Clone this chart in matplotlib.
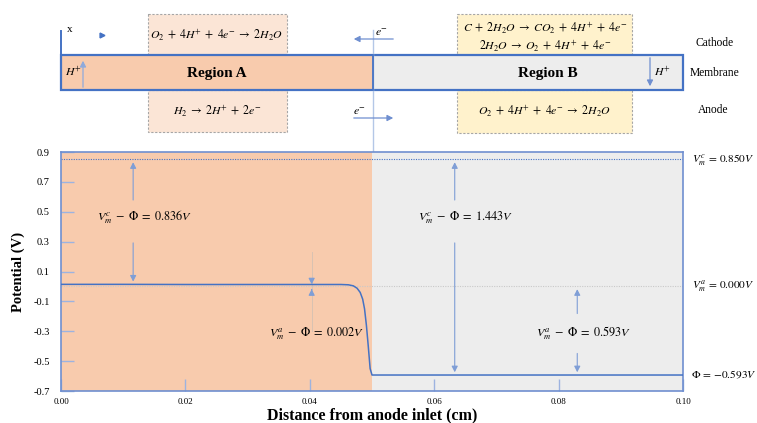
import matplotlib
matplotlib.use("Agg")
import matplotlib.pyplot as plt
from matplotlib.patches import Rectangle

plt.rcParams['font.family'] = ['Liberation Serif', 'DejaVu Serif']
plt.rcParams['mathtext.fontset'] = 'stix'

# ---------------- data ----------------
x_cm = [0.0, 0.01, 0.02, 0.03, 0.04, 0.045, 0.0462, 0.0470, 0.0476, 0.0481, 0.0485,
        0.0488, 0.0491, 0.0494, 0.0497, 0.0500, 0.06, 0.07, 0.08, 0.09, 0.10]
potential = [0.014, 0.014, 0.013, 0.013, 0.013, 0.013, 0.011, 0.004, -0.012, -0.040, -0.085,
             -0.15, -0.26, -0.40, -0.55, -0.593, -0.593, -0.593, -0.593, -0.593, -0.593]
V_c = 0.850
V_a = 0.000
phi_A = 0.014
phi_B = -0.593
region_split = 0.05
x_ticks = [0.00, 0.02, 0.04, 0.06, 0.08, 0.10]
x_ticklabels = ['0.00', '0.02', '0.04', '0.06', '0.08', '0.10']
y_ticks = [0.9, 0.7, 0.5, 0.3, 0.1, -0.1, -0.3, -0.5, -0.7]
y_ticklabels = ['0.9', '0.7', '0.5', '0.3', '0.1', '-0.1', '-0.3', '-0.5', '-0.7']

SALMON = '#F8CBAD'
PEACH = '#FBE5D6'
GRAYF = '#EDEDED'
YELLOW = '#FFF2CC'
BLUE = '#4472C4'
LBLUE = '#B4C7E7'

W, H = 757, 423
fig = plt.figure(figsize=(W / 100, H / 100), dpi=100)

# ---------------- top schematic (pixel coordinates) ----------------
ov = fig.add_axes([0, 0, 1, 1], zorder=0)
ov.set_xlim(0, W)
ov.set_ylim(H, 0)
ov.axis('off')

for (x0, x1, y0, y1, fc) in [(148, 287, 14, 55, PEACH), (148, 287, 90, 132, PEACH),
                              (457, 632, 14, 55, YELLOW), (457, 632, 90, 133, YELLOW)]:
    ov.add_patch(Rectangle((x0, y0), x1 - x0, y1 - y0, facecolor=fc, edgecolor='#A6A6A6',
                           lw=0.8, ls=(0, (2, 1.5))))
ov.add_patch(Rectangle((61, 55), 312, 35, facecolor=SALMON, edgecolor='none'))
ov.add_patch(Rectangle((373, 55), 310, 35, facecolor=GRAYF, edgecolor='none'))
ov.add_patch(Rectangle((61, 55), 622, 35, facecolor='none', edgecolor=BLUE, lw=1.6))
ov.plot([373, 373], [55, 90], color=BLUE, lw=1.3)
ov.plot([61, 61], [31, 90], color=BLUE, lw=1.4)
ov.text(70, 30, 'x', fontsize=8, ha='center', va='center')
ov.plot([102], [35], marker='>', ms=3.5, color=BLUE, lw=0)
ov.plot([373, 373], [30, 152], color=LBLUE, lw=1.0, zorder=1)

hk = dict(arrowstyle='-|>,head_length=0.35,head_width=0.18', color='#6F8FD0', lw=0.9)
ov.annotate('', xy=(83, 58), xytext=(83, 90), arrowprops=dict(hk, color='#8FAADC'))
ov.text(73, 72, r'$H^{+}$', fontsize=8.5, ha='center', va='center')
ov.annotate('', xy=(650, 89), xytext=(650, 55), arrowprops=hk)
ov.text(662, 72, r'$H^{+}$', fontsize=8.5, ha='center', va='center')
ov.annotate('', xy=(351, 39), xytext=(396, 39), arrowprops=hk)
ov.text(382, 33, r'$e^{-}$', fontsize=8.5, ha='center', va='center')
ov.annotate('', xy=(396, 118), xytext=(351, 118), arrowprops=hk)
ov.text(360, 112, r'$e^{-}$', fontsize=8.5, ha='center', va='center')

ov.text(217, 73, 'Region A', fontsize=11, fontweight='bold', ha='center', va='center')
ov.text(548, 73, 'Region B', fontsize=11, fontweight='bold', ha='center', va='center')

eq = 8.5
ov.text(217, 35, r'$O_2\;+\;4H^{+}\;+\;4e^{-}\;\rightarrow\;2H_2O$', fontsize=eq, ha='center', va='center')
ov.text(217, 111, r'$H_2\;\rightarrow\;2H^{+}\;+\;2e^{-}$', fontsize=eq, ha='center', va='center')
ov.text(545, 28, r'$C\;+\;2H_2O\;\rightarrow\;CO_2\;+\;4H^{+}\;+\;4e^{-}$', fontsize=eq, ha='center', va='center')
ov.text(545, 46, r'$2H_2O\;\rightarrow\;O_2\;+\;4H^{+}\;+\;4e^{-}$', fontsize=eq, ha='center', va='center')
ov.text(545, 111, r'$O_2\;+\;4H^{+}\;+\;4e^{-}\;\rightarrow\;2H_2O$', fontsize=eq, ha='center', va='center')

ov.text(715, 43, 'Cathode', fontsize=8.3, ha='center', va='center')
ov.text(715, 73, 'Membrane', fontsize=8.3, ha='center', va='center')
ov.text(713, 110, 'Anode', fontsize=8.3, ha='center', va='center')

# ---------------- potential plot ----------------
ax = fig.add_axes([61 / W, 1 - 391 / H, (683 - 61) / W, (391 - 152) / H], zorder=1)
ax.patch.set_alpha(0)
ax.set_xlim(0, 0.10)
ax.set_ylim(-0.7, 0.9)
ax.axvspan(0, region_split, color=SALMON, lw=0, zorder=0)
ax.axvspan(region_split, 0.10, color=GRAYF, lw=0, zorder=0)

ax.axhline(V_c, color=BLUE, lw=0.8, ls=(0, (1, 1.2)), zorder=2)
ax.axhline(V_a, color='#C9C9C9', lw=0.8, ls=(0, (1, 1.2)), zorder=2)
ax.plot(x_cm, potential, color=BLUE, lw=1.1, zorder=3)

arrow_kw = dict(arrowstyle='-|>,head_length=0.35,head_width=0.18', color='#7F9ED6', lw=0.8)

def dbl_arrow(x, top, bottom, gap_top, gap_bottom):
    ax.annotate('', xy=(x, top), xytext=(x, gap_top), arrowprops=arrow_kw, zorder=4)
    ax.annotate('', xy=(x, bottom), xytext=(x, gap_bottom), arrowprops=arrow_kw, zorder=4)

tf = 8.8
dbl_arrow(0.0116, V_c, phi_A, 0.56, 0.31)
ax.text(0.0135, 0.465, r'$V_m^c\;-\;\Phi\;=\;0.836V$', fontsize=tf, ha='center', va='center')

ax.plot([0.0403, 0.0403], [0.23, -0.30], color='#D9C2B2', lw=0.7, zorder=2)
ax.annotate('', xy=(0.0403, phi_A), xytext=(0.0403, 0.05), arrowprops=arrow_kw, zorder=4)
ax.annotate('', xy=(0.0403, V_a), xytext=(0.0403, -0.04), arrowprops=arrow_kw, zorder=4)
ax.text(0.0411, -0.31, r'$V_m^a\;-\;\Phi\;=\;0.002V$', fontsize=tf, ha='center', va='center')

dbl_arrow(0.0633, V_c, phi_B, 0.56, 0.31)
ax.text(0.0650, 0.465, r'$V_m^c\;-\;\Phi\;=\;1.443V$', fontsize=tf, ha='center', va='center')

dbl_arrow(0.0830, V_a, phi_B, -0.20, -0.43)
ax.text(0.0840, -0.31, r'$V_m^a\;-\;\Phi\;=\;0.593V$', fontsize=tf, ha='center', va='center')

rf = 8.2
ax.text(0.1015, V_c, r'$V_m^c\,=\,0.850V$', fontsize=rf, ha='left', va='center', clip_on=False)
ax.text(0.1015, V_a, r'$V_m^a\,=\,0.000V$', fontsize=rf, ha='left', va='center', clip_on=False)
ax.text(0.1013, phi_B, r'$\Phi\,=\,{-}0.593V$', fontsize=rf, ha='left', va='center', clip_on=False)

for s in ax.spines.values():
    s.set_color('#6F8FD0')
    s.set_linewidth(1.2)
ax.set_xticks(x_ticks)
ax.set_xticklabels(x_ticklabels, fontsize=6.5)
ax.set_yticks(y_ticks)
ax.set_yticklabels(y_ticklabels, fontsize=7.5)
ax.tick_params(axis='both', direction='in', length=9, color='#9DB3E0', width=1.0)
ax.tick_params(axis='y', pad=8)
ax.tick_params(axis='x', pad=5)
ax.set_ylabel('Potential (V)', fontsize=10.5, fontweight='bold', labelpad=6)
ax.set_xlabel('Distance from anode inlet (cm)', fontsize=11.5, fontweight='bold', labelpad=1)

fig.savefig('out.png', dpi=100)
